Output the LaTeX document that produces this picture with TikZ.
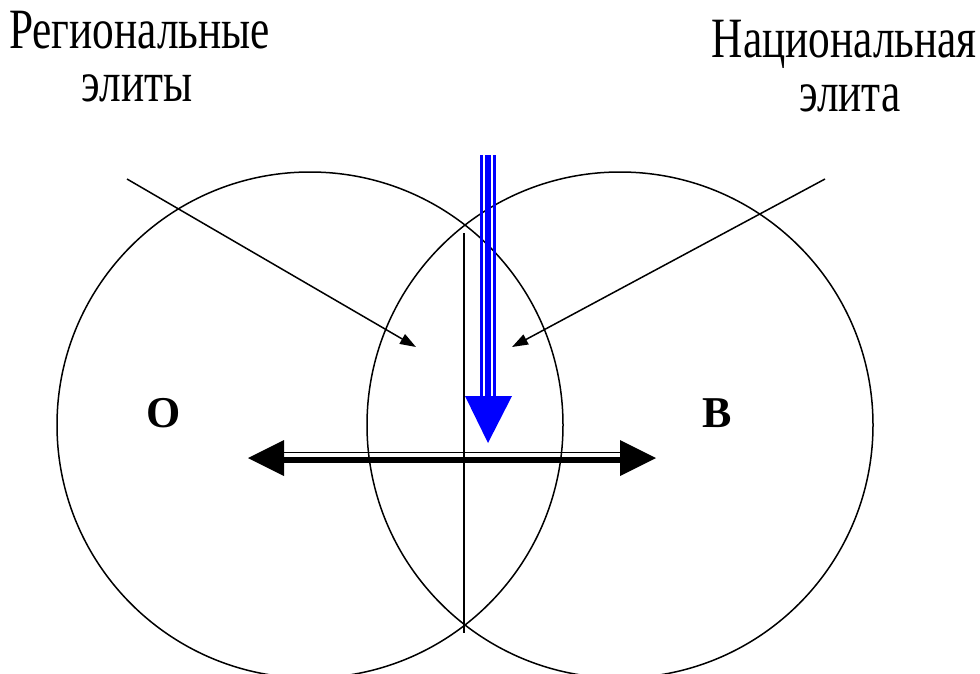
\documentclass[tikz,border=0pt]{standalone}
\usepackage{fontspec}
\setmainfont{Liberation Serif}
\newfontfamily\condfont[FakeStretch=0.76]{Liberation Serif}
\usetikzlibrary{arrows.meta}
\tikzset{
  ring/.style={circle, draw, line width=1.5pt, minimum size=506pt, inner sep=0pt},
  lbl/.style={inner sep=0pt, text height=0.68em, text depth=0.06em, font=\condfont\fontsize{57}{60}\selectfont},
  letter/.style={inner sep=0pt, font=\bfseries\fontsize{44}{48}\selectfont},
  pointer/.style={line width=1.5pt, -{Triangle[length=16pt,width=11pt]}},
  thin/.style={line width=1.5pt}
}
\begin{document}
\begin{tikzpicture}[x=1pt,y=-1pt]
\useasboundingbox (0,0) rectangle (980,673);
\begin{scope}
\clip (0,0) rectangle (980,673);
\node[ring] (L) at (310,425) {};
\node[ring] (R) at (620,425) {};
\end{scope}
% labels
\node[lbl, anchor=base west] (t1) at (9,48) {Региональные};
\node[lbl, anchor=base] (t2) at (137,101) {элиты};
\node[lbl, anchor=base east] (t3) at (977,57) {Национальная};
\node[lbl, anchor=base] (t4) at (850,111) {элита};
\node[letter] (O) at (164,413) {О};
\node[letter] (B) at (717,413) {В};
% vertical line
\coordinate (vt) at (464,233);
\coordinate (vb) at (464,633);
\draw[thin] (vt) -- (vb);
% pointers
\coordinate (p1s) at (127,179);
\coordinate (p1e) at (416,347);
\coordinate (p2s) at (825,179);
\coordinate (p2e) at (512,347);
\draw[pointer] (p1s) -- (p1e);
\draw[pointer] (p2s) -- (p2e);
% blue arrow
\coordinate (bt) at (488,155);
\coordinate (bb) at (488,396);
\coordinate (btip) at (488,443);
\draw[blue, line width=2.7pt] ([xshift=-6.8pt]bt) -- ([xshift=-6.8pt]bb);
\draw[blue, line width=5.3pt] (bt) -- (bb);
\draw[blue, line width=2.7pt] ([xshift=6.8pt]bt) -- ([xshift=6.8pt]bb);
\fill[blue] ([xshift=-23pt]bb) -- ([xshift=24pt]bb) -- (btip) -- cycle;
% double-headed black arrow
\coordinate (al) at (248,458);
\coordinate (ar) at (656,458);
\coordinate (alb) at (284,458);
\coordinate (arb) at (620,458);
\draw[line width=1.6pt] ([yshift=5.5pt]alb) -- ([yshift=5.5pt]arb);
\draw[line width=6pt] ([yshift=-2pt]alb) -- ([yshift=-2pt]arb);
\fill (al) -- ([yshift=-18pt]alb) -- ([yshift=18pt]alb) -- cycle;
\fill (ar) -- ([yshift=-18pt]arb) -- ([yshift=18pt]arb) -- cycle;
\end{tikzpicture}
\end{document}
